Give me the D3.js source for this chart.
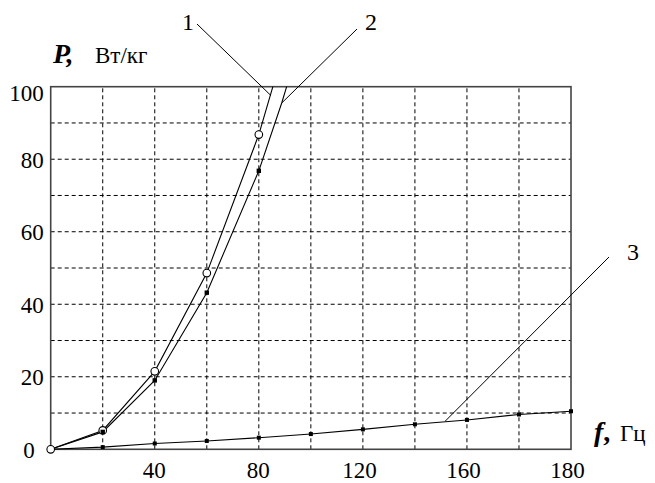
<!DOCTYPE html>
<html><head><meta charset="utf-8">
<script src="https://cdn.jsdelivr.net/npm/d3@7"></script>
</head><body style="margin:0">
<svg id="chart" width="655" height="483"></svg>
<script>
// ---- data ----
const curve1F = [0, 20, 40, 60, 80, 85.4];
const curve1P = [0, 5.2, 21.5, 48.6, 86.8, 100];
const curve2F = [0, 20, 40, 60, 80, 88.8, 90.7];
const curve2P = [0, 4.8, 19.0, 43.2, 76.8, 95.5, 100];
const curve3F = [0, 20, 40, 60, 80, 100, 120, 140, 160, 180, 200];
const curve3P = [0, 0.6, 1.6, 2.3, 3.2, 4.2, 5.5, 6.9, 8.1, 9.6, 10.5];
const xTickValues = [40, 80, 120, 160, 200];
const xTickLabels = ["40", "80", "120", "160", "180"];
const yTickValues = [0, 20, 40, 60, 80, 100];
const xGrid = [20, 40, 60, 80, 100, 120, 140, 160, 180];
const yGrid = [10, 20, 30, 40, 50, 60, 70, 80, 90];
const curveLabels = ["1", "2", "3"];

const FONT = "Liberation Serif";
const setFont = (sel, size) => sel.attr("font-family", FONT).style("font-family", `"${FONT}"`)
  .attr("font-size", size).style("font-size", size + "px");

// ---- layout ----
const svg = d3.select("#chart");
const x = d3.scaleLinear().domain([0, 200]).range([50.7, 571]);
const y = d3.scaleLinear().domain([0, 100]).range([449.3, 86.7]);

// grid
svg.append("g").selectAll("line").data(xGrid).join("line")
  .attr("x1", d => x(d)).attr("x2", d => x(d))
  .attr("y1", y(0)).attr("y2", y(100))
  .attr("stroke", "#000").attr("stroke-width", 1).attr("stroke-dasharray", "4,3");
svg.append("g").selectAll("line").data(yGrid).join("line")
  .attr("y1", d => y(d)).attr("y2", d => y(d))
  .attr("x1", x(0)).attr("x2", x(200))
  .attr("stroke", "#000").attr("stroke-width", 1).attr("stroke-dasharray", "4,3");

// frame
svg.append("rect")
  .attr("x", x(0)).attr("y", y(100))
  .attr("width", x(200) - x(0)).attr("height", y(0) - y(100))
  .attr("fill", "none").attr("stroke", "#444").attr("stroke-width", 1.6);

// axes tick labels (axis generators compute positions from the scales)
const xAxis = d3.axisBottom(x).tickValues(xTickValues)
  .tickFormat((d, i) => xTickLabels[i]).tickSize(0).tickPadding(12);
const gx = svg.append("g").attr("transform", `translate(0,${y(0)})`).call(xAxis);
gx.attr("font-family", null).attr("font-size", null);
gx.select(".domain").remove();
setFont(gx.selectAll("text"), 23).attr("fill", "#000")
  .attr("dx", d => d >= 100 ? -4 : -1);

const yAxis = d3.axisLeft(y).tickValues(yTickValues).tickSize(0).tickPadding(7);
const gy = svg.append("g").attr("transform", `translate(${x(0)},0)`).call(yAxis);
gy.attr("font-family", null).attr("font-size", null);
gy.select(".domain").remove();
setFont(gy.selectAll("text"), 23).attr("fill", "#000")
  .attr("dy", d => d === 100 ? "0.6em" : "0.35em")
  .attr("dx", d => d === 0 ? -9 : 0);

// curves
const line = d3.line().x(d => x(d[0])).y(d => y(d[1]));
const c1 = curve1F.map((f, i) => [f, curve1P[i]]);
const c2 = curve2F.map((f, i) => [f, curve2P[i]]);
const c3 = curve3F.map((f, i) => [f, curve3P[i]]);
[c1, c2, c3].forEach(c => {
  svg.append("path").datum(c).attr("d", line)
    .attr("fill", "none").attr("stroke", "#000").attr("stroke-width", 1.1);
});

// markers
svg.append("g").selectAll("circle").data(c1.filter(d => d[0] % 20 === 0)).join("circle")
  .attr("cx", d => x(d[0])).attr("cy", d => y(d[1])).attr("r", 3.8)
  .attr("fill", "#fff").attr("stroke", "#000").attr("stroke-width", 1.1);
svg.append("g").selectAll("rect").data(c2.filter(d => d[0] % 20 === 0 && d[0] > 0)).join("rect")
  .attr("x", d => x(d[0]) - 2.2).attr("y", d => y(d[1]) - 2.2)
  .attr("width", 4.4).attr("height", 4.4).attr("fill", "#000");
svg.append("g").selectAll("rect").data(c3.filter(d => d[0] > 0)).join("rect")
  .attr("x", d => x(d[0]) - 2).attr("y", d => y(d[1]) - 2)
  .attr("width", 4).attr("height", 4).attr("fill", "#000");

// pointer lines and curve labels
const pointers = [
  {from: [197, 24], to: [x(84.6), y(97.6)], lx: 188, ly: 30},
  {from: [357, 29], to: [x(88.8), y(95.5)], lx: 371, ly: 30},
  {from: [609, 257], to: [x(151.7), y(7.8)], lx: 633, ly: 260}
];
pointers.forEach((p, i) => {
  svg.append("line").attr("x1", p.from[0]).attr("y1", p.from[1])
    .attr("x2", p.to[0]).attr("y2", p.to[1])
    .attr("stroke", "#000").attr("stroke-width", 1);
  setFont(svg.append("text").attr("x", p.lx).attr("y", p.ly).attr("text-anchor", "middle"), 24)
    .text(curveLabels[i]);
});

// axis titles
const yt = setFont(svg.append("text").attr("x", 53).attr("y", 63), 28);
yt.append("tspan").attr("font-weight", "bold").attr("font-style", "italic").text("P,");
setFont(svg.append("text").attr("x", 95).attr("y", 63), 23).text("Вт/кг");

const xt = setFont(svg.append("text").attr("x", 594).attr("y", 441), 28);
xt.append("tspan").attr("font-weight", "bold").attr("font-style", "italic").text("f");
xt.append("tspan").attr("font-weight", "bold").text(",");
setFont(svg.append("text").attr("x", 620).attr("y", 441), 23).text("Гц");
</script>
</body></html>
